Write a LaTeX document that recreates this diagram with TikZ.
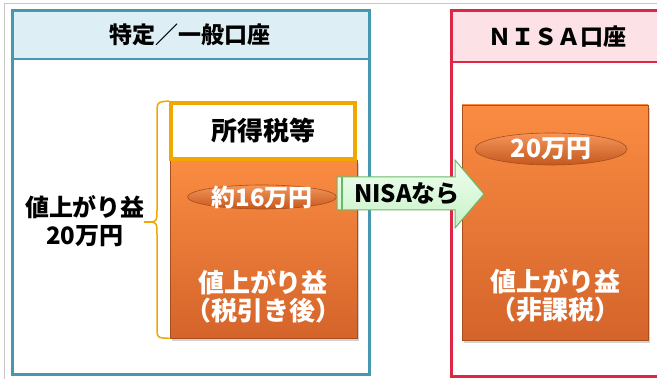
\documentclass[tikz,border=0pt]{standalone}
\usepackage{fontspec}
\setmainfont{Noto Sans CJK JP}
\usetikzlibrary{arrows.meta,shapes.geometric,shadows}

\definecolor{tealline}{RGB}{70,152,176}
\definecolor{tealfill}{RGB}{221,239,244}
\definecolor{redline}{RGB}{222,38,70}
\definecolor{redfill}{RGB}{252,226,231}
\definecolor{goldline}{RGB}{240,168,0}
\definecolor{orangetop}{RGB}{250,140,66}
\definecolor{orangebot}{RGB}{212,100,42}
\definecolor{orangerim}{RGB}{168,78,28}
\definecolor{pilltop}{RGB}{246,150,90}
\definecolor{pillbot}{RGB}{196,88,30}
\definecolor{greenfill}{RGB}{200,242,200}
\definecolor{greenline}{RGB}{104,186,104}

\tikzset{
  panel/.style={line width=3pt},
  gainbox/.style={rectangle, draw=orangerim, line width=0.6pt, inner sep=0pt,
    top color=orangetop, bottom color=orangebot,
    drop shadow={opacity=0.35, shadow xshift=2pt, shadow yshift=-3pt}},
  pill/.style={ellipse, draw=orangerim, line width=0.6pt, inner sep=0pt,
    top color=pilltop, bottom color=pillbot},
  headtxt/.style={font=\bfseries\fontsize{23}{24}\selectfont},
  whitetxt/.style={text=white, font=\bfseries\fontsize{26}{28}\selectfont, align=center},
  pilltxt/.style={text=white, font=\bfseries\fontsize{24}{24}\selectfont, inner sep=0pt},
  blacktxt/.style={font=\bfseries\fontsize{24}{28}\selectfont, align=center},
}

\begin{document}
\begin{tikzpicture}[x=1pt, y=-1pt]
    \useasboundingbox (0,0) rectangle (657,379);
    \fill[white] (0,0) rectangle (657,379);
    \draw[black!22, line width=1pt] (4,379) -- (4,4) -- (657,4);

    \fill[tealfill] (12,11) rectangle (369,59);
    \draw[tealline, line width=1.5pt] (12,59) -- (369,59);
    \draw[panel, tealline] (12,11) rectangle (369,375);
    \node[headtxt] (headL) at (190,35) {特定／一般口座};

    \fill[redfill] (451,11) rectangle (662,62);
    \draw[redline, line width=1.5pt] (451,62) -- (662,62);
    \draw[panel, redline] (451,11) rectangle (662,377);
    \node[headtxt] (headR) at (557,37) {ＮＩＳＡ口座};

    \node[gainbox, minimum width=187pt, minimum height=178pt] (gainL) at (263.5,249) {};
    \node[rectangle, draw=goldline, fill=white, line width=4pt,
          minimum width=184pt, minimum height=56pt,
          font=\bfseries\fontsize{26}{28}\selectfont] (tax) at (263,131) {所得税等};
    \node[pill, minimum width=149pt, minimum height=24pt] (pillL) at (262,197) {};
    \node[pilltxt] (pillLtxt) at (pillL) {約16万円};
    \node[whitetxt] (netL) at (263,296) {値上がり益\\（税引き後）};

    \draw[goldline, line width=1.5pt]
        (tax.north west) .. controls (157,102) .. (157,114) -- (157,210)
        .. controls (157,222) .. (144,222) .. controls (157,222) .. (157,234)
        -- (157,326) .. controls (157,338) .. (gainL.south west);
    \node[blacktxt] (gain) at (85,221) {値上がり益\\20万円};

    \node[gainbox, minimum width=186pt, minimum height=235pt] (gainR) at (555,222.5) {};
    \node[pill, minimum width=152pt, minimum height=32pt] (pillR) at (551,149) {};
    \node[pilltxt, font=\bfseries\fontsize{25}{25}\selectfont] (pillRtxt) at (pillR) {20万円};
    \node[whitetxt] (netR) at (555,296) {値上がり益\\（非課税）};

    \draw[greenline, line width=1pt, top color=green!6, bottom color=greenfill]
        (337,177) -- (455,177) -- (455,160) -- (484,194) -- (455,228)
        -- (455,210) -- (337,210) -- cycle;
    \draw[greenline, line width=1.5pt] (342,177) -- (342,210);
    \node[font=\bfseries\fontsize{24}{24}\selectfont] (nisa) at (407,194) {NISAなら};
\end{tikzpicture}
\end{document}
